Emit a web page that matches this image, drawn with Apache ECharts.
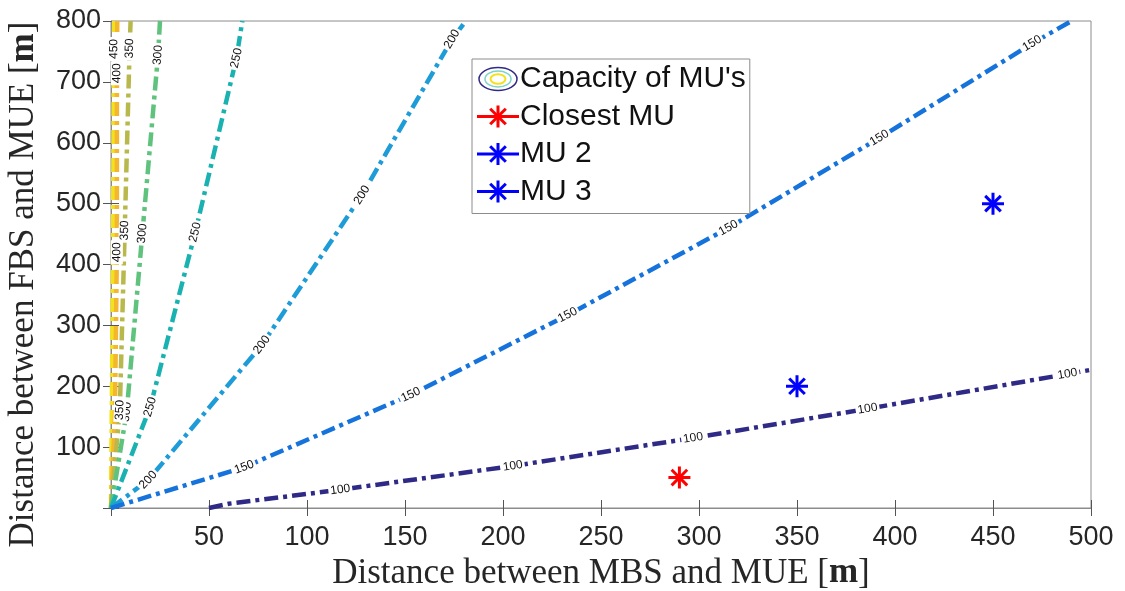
<!DOCTYPE html>
<html>
<head>
    <meta charset="utf-8">
    <title>Capacity of MU's</title>
    <script src="https://cdn.jsdelivr.net/npm/echarts@6/dist/echarts.min.js"></script>
    <style>
        body, html { margin: 0; padding: 0; height: 100%; overflow: hidden; background: #fff; }
        #main { width: 1125px; height: 591px; }
    </style>
</head>
<body>
    <div id="main"></div>
    <script>
        // contour levels and their vertices [MBS-MUE, FBS-MUE]
        const levels = [100, 150, 200, 250, 300, 350, 400, 450];
        const line100 = [[50, 0], [60, 7], [117, 30], [205, 69], [297, 115], [386, 163], [488, 220], [500, 227]];
        const line150 = [[0, 0], [68, 67], [153, 186], [233, 317], [315, 460], [392, 608], [470, 763], [490, 800]];
        const line200 = [[0, 0], [19, 46], [77, 268], [128, 514], [174, 770], [181, 800]];
        const line250 = [[0, 0], [20, 166], [43, 453], [64, 739], [67, 800]];
        const line300 = [[0, 0], [8, 158], [16, 451], [24, 744], [25, 800]];
        const line350 = [[0, 0], [4.5, 161], [7, 456], [9.5, 755], [10, 800]];
        const line400 = [[0, 0], [2, 150], [3, 420], [3, 714], [3.2, 800]];
        const line450 = [[0, 0], [1, 400], [1.5, 754], [1.6, 800]];
        // which vertices carry the inline level label
        const labelIdx = [[2, 3, 4, 5, 6], [1, 2, 3, 4, 5, 6], [1, 2, 3, 4], [1, 2, 3], [1, 2, 3], [1, 2, 3], [2, 3], [2]];

        // mobile users
        const closestMU = [[290, 50]];
        const mu2 = [[350, 200]];
        const mu3 = [[450, 500]];

        const xTicks = [0, 500, 50];
        const yTicks = [0, 800, 100];

        const lines = [line100, line150, line200, line250, line300, line350, line400, line450];
        const parula = ['#2e2a86', '#1673dc', '#1e9cd8', '#19b2b0', '#5fc37e', '#b8b84c', '#f4b52f', '#f2e21e'];

        const svg = s => 'image://data:image/svg+xml;charset=utf-8,' + encodeURIComponent(s);
        const star = (c, withLine) => svg(
            `<svg xmlns="http://www.w3.org/2000/svg" width="${withLine ? 42 : 24}" height="24" viewBox="${withLine ? '-21' : '-12'} -12 ${withLine ? 42 : 24} 24">` +
            `<g stroke="${c}" stroke-width="3" stroke-linecap="butt">` +
            (withLine ? '<line x1="-21" y1="0" x2="21" y2="0"/>' : '<line x1="-11" y1="0" x2="11" y2="0"/>') +
            '<line x1="0" y1="-11" x2="0" y2="11"/><line x1="-7.8" y1="-7.8" x2="7.8" y2="7.8"/><line x1="7.8" y1="-7.8" x2="-7.8" y2="7.8"/></g></svg>');
        const contourIcon = svg(
            '<svg xmlns="http://www.w3.org/2000/svg" width="42" height="26" viewBox="0 0 42 26"><g fill="none" stroke-width="1.5">' +
            '<ellipse cx="21" cy="13" rx="19" ry="11.5" stroke="#2e2a86"/>' +
            '<ellipse cx="21" cy="13" rx="13" ry="8" stroke="#7fd3c8"/>' +
            '<ellipse cx="21" cy="13" rx="7.5" ry="4.8" stroke="#f2e21e" stroke-width="2"/></g></svg>');

        const chartDom = document.getElementById('main');
        const myChart = echarts.init(chartDom);

        const axisFont = { fontFamily: 'Liberation Sans', fontSize: 27, color: '#262626' };
        const titleFont = (pad) => ({
            fontFamily: 'Liberation Serif', fontSize: 35, color: '#262626', padding: pad,
            rich: { b: { fontFamily: 'Liberation Serif', fontSize: 35, fontWeight: 'bold', color: '#262626' } }
        });
        const tick = { show: true, inside: true, length: 8, lineStyle: { color: '#555' } };

        const series = [];
        lines.forEach((pts, i) => {
            series.push({
                name: "Capacity of MU's",
                type: 'line',
                data: pts,
                showSymbol: false,
                smooth: false,
                z: 2 + (lines.length - i) * 0.01,
                lineStyle: { color: parula[i], width: 4.5, type: [14, 5, 4, 5] },
                itemStyle: { color: parula[i] }
            });
        });
        const starSeries = (name, data, c) => ({
            name: name, type: 'scatter', data: data, symbol: star(c, false), symbolSize: 24, z: 5,
            itemStyle: { color: c, opacity: 1 }
        });
        series.push(
            starSeries('Closest MU', closestMU, '#ff0000'),
            starSeries('MU 2', mu2, '#0000ff'),
            starSeries('MU 3', mu3, '#0000ff')
        );

        const option = {
            backgroundColor: '#fff',
            animation: false,
            grid: {
                left: 111, right: 34, top: 21, bottom: 83, show: true, borderColor: '#8c8c8c', borderWidth: 1,
                outerBoundsMode: 'none', containLabel: false
            },
            xAxis: [{
                type: 'value', min: xTicks[0], max: xTicks[1], interval: xTicks[2],
                name: 'Distance between MBS and MUE [{b|m}]', nameLocation: 'middle', nameGap: 46,
                nameTextStyle: titleFont(0),
                axisLine: { show: true, lineStyle: { color: '#8c8c8c' } },
                axisTick: tick,
                splitLine: { show: false },
                axisLabel: Object.assign({ margin: 16, formatter: v => v === 0 ? '' : v }, axisFont)
            }, {
                type: 'value', position: 'top', min: xTicks[0], max: xTicks[1], interval: xTicks[2],
                axisLine: { show: false }, axisTick: tick, axisLabel: { show: false }, splitLine: { show: false }
            }],
            yAxis: [{
                type: 'value', min: yTicks[0], max: yTicks[1], interval: yTicks[2],
                name: 'Distance between FBS and MUE [{b|m}]', nameLocation: 'middle', nameGap: 70,
                nameTextStyle: titleFont([0, 40, 0, 0]),
                axisLine: { show: true, lineStyle: { color: '#8c8c8c' } },
                axisTick: tick,
                splitLine: { show: false },
                axisLabel: Object.assign({ margin: 10, formatter: v => v === 0 ? '' : v }, axisFont)
            }, {
                type: 'value', position: 'right', min: yTicks[0], max: yTicks[1], interval: yTicks[2],
                axisLine: { show: false }, axisTick: tick, axisLabel: { show: false }, splitLine: { show: false }
            }],
            legend: {
                orient: 'vertical',
                left: 472, top: 59,
                padding: [5, 4, 7, 5],
                itemWidth: 42, itemHeight: 26, itemGap: 7.5,
                borderColor: '#8c8c8c', borderWidth: 1,
                backgroundColor: '#fff',
                textStyle: { fontFamily: 'Liberation Sans', fontSize: 30, color: '#111', padding: [0, 0, 0, -4] },
                data: [
                    { name: "Capacity of MU's", icon: contourIcon },
                    { name: 'Closest MU', icon: star('#ff0000', true) },
                    { name: 'MU 2', icon: star('#0000ff', true) },
                    { name: 'MU 3', icon: star('#0000ff', true) }
                ],
                selectedMode: false
            },
            series: series
        };

        myChart.setOption(option);

        // inline contour labels, rotated along the line in pixel space
        const labelSeries = lines.map((pts, i) => {
            const px = pts.map(p => myChart.convertToPixel({ gridIndex: 0 }, p));
            return {
                name: 'label' + levels[i],
                type: 'scatter',
                symbolSize: 0,
                z: 4,
                silent: true,
                itemStyle: { opacity: 1 },
                data: labelIdx[i].map(k => {
                    const a = px[k - 1], b = px[k + 1];
                    const ang = Math.atan2(-(b[1] - a[1]), b[0] - a[0]) * 180 / Math.PI;
                    return {
                        value: pts[k],
                        label: {
                            show: true, position: 'inside', rotate: ang,
                            formatter: String(levels[i]),
                            fontFamily: 'Liberation Sans', fontSize: 12, color: '#111',
                            backgroundColor: '#fff', padding: [0, 2]
                        }
                    };
                })
            };
        });
        myChart.setOption({ series: series.concat(labelSeries) });
    </script>
</body>
</html>
